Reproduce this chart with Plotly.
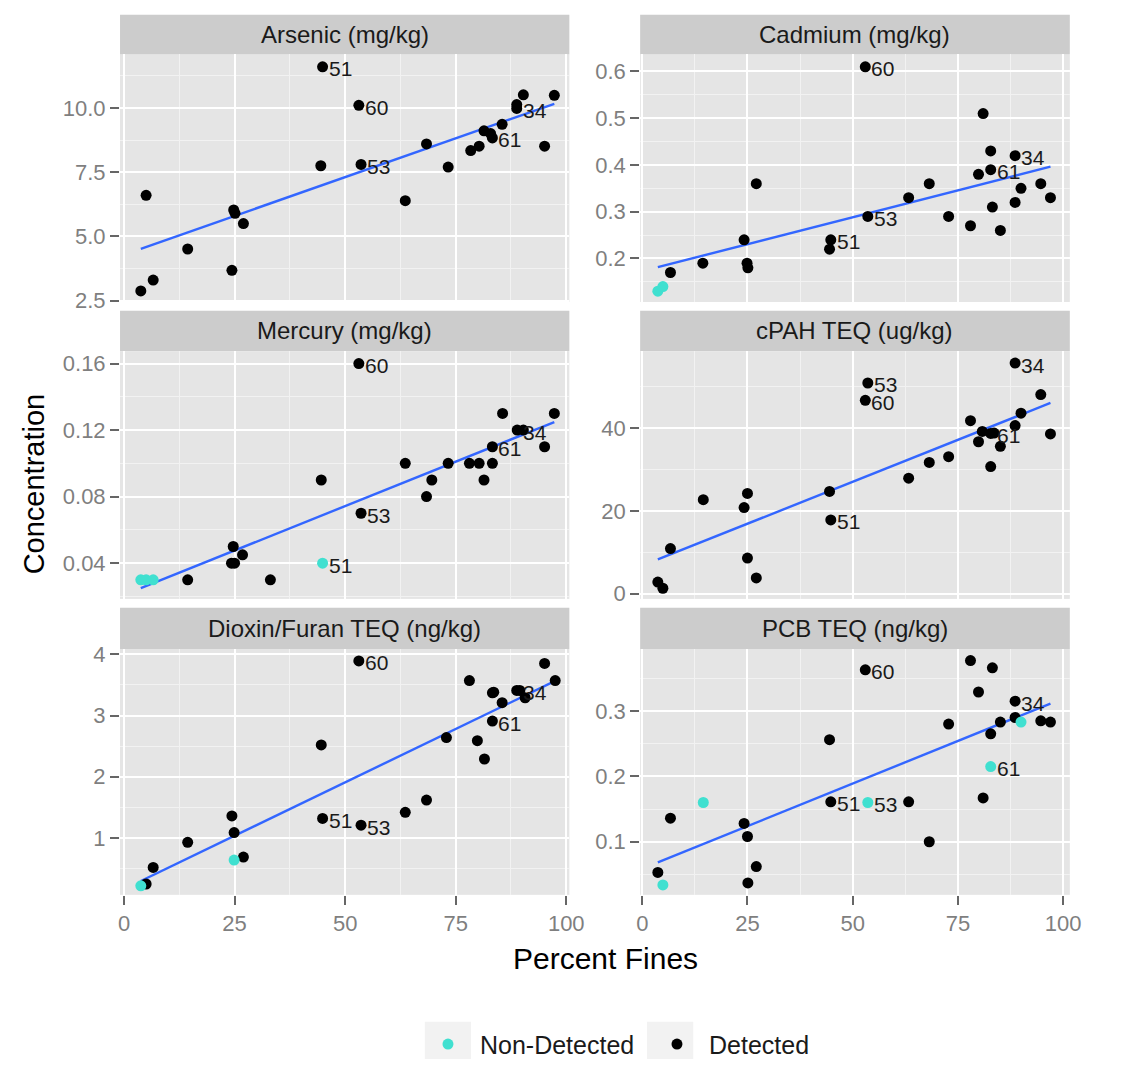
import numpy as np
import plotly.graph_objects as go

# ---------------- data ----------------
percent_ticks = [0, 25, 50, 75, 100]

panel_titles = ["Arsenic (mg/kg)", "Cadmium (mg/kg)", "Mercury (mg/kg)",
                "cPAH TEQ (ug/kg)", "Dioxin/Furan TEQ (ng/kg)", "PCB TEQ (ng/kg)"]

arsenic_x = [3.8, 5.0, 6.6, 14.4, 24.4, 24.8, 25.1, 27.0, 44.5, 44.9, 53.1, 53.6, 63.6, 68.4,
             73.3, 78.4, 80.3, 81.4, 82.9, 83.3, 85.5, 88.8, 88.8, 90.3, 95.1, 97.3]
arsenic_y = [2.88, 6.60, 3.30, 4.51, 3.68, 6.03, 5.90, 5.50, 7.75, 11.6, 10.1, 7.80, 6.39, 8.60,
             7.70, 8.34, 8.51, 9.11, 9.00, 8.83, 9.36, 10.13, 9.98, 10.51, 8.51, 10.49]
arsenic_det = [1] * 26
arsenic_lab = ["", "", "", "", "", "", "", "", "", "51", "60", "53", "", "",
               "", "", "", "", "", "61", "", "", "34", "", "", ""]

cadmium_x = [3.7, 4.9, 6.7, 14.4, 24.2, 24.9, 25.1, 27.1, 44.5, 44.8, 53.0, 53.6, 63.3, 68.2,
             72.8, 78.0, 79.9, 81.0, 82.8, 82.8, 83.2, 85.1, 88.6, 88.6, 90.0, 94.7, 97.0]
cadmium_y = [0.13, 0.14, 0.17, 0.19, 0.24, 0.19, 0.18, 0.36, 0.22, 0.24, 0.61, 0.29, 0.33, 0.36,
             0.29, 0.27, 0.38, 0.51, 0.43, 0.39, 0.31, 0.26, 0.42, 0.32, 0.35, 0.36, 0.33]
cadmium_det = [0, 0] + [1] * 25
cadmium_lab = ["", "", "", "", "", "", "", "", "", "51", "60", "53", "", "",
               "", "", "", "", "", "61", "", "", "34", "", "", "", ""]

mercury_x = [3.8, 5.0, 6.6, 14.4, 24.3, 24.7, 25.0, 26.8, 33.1, 44.6, 44.9, 53.1, 53.6, 63.6,
             68.4, 69.6, 73.3, 78.1, 80.3, 81.4, 83.3, 83.3, 85.6, 88.9, 90.3, 95.1, 97.3]
mercury_y = [0.03, 0.03, 0.03, 0.03, 0.04, 0.05, 0.04, 0.045, 0.03, 0.09, 0.04, 0.16, 0.07, 0.10,
             0.08, 0.09, 0.10, 0.10, 0.10, 0.09, 0.10, 0.11, 0.13, 0.12, 0.12, 0.11, 0.13]
mercury_det = [0, 0, 0, 1, 1, 1, 1, 1, 1, 1, 0, 1, 1, 1,
               1, 1, 1, 1, 1, 1, 1, 1, 1, 1, 1, 1, 1]
mercury_lab = ["", "", "", "", "", "", "", "", "", "", "51", "60", "53", "",
               "", "", "", "", "", "", "", "61", "", "34", "", "", ""]

cpah_x = [3.7, 4.9, 6.7, 14.5, 24.2, 25.0, 25.0, 27.1, 44.5, 44.8, 53.0, 53.6, 63.3, 68.2,
          72.8, 78.0, 79.9, 80.8, 82.8, 82.8, 83.6, 85.1, 88.6, 88.6, 90.0, 94.7, 97.0]
cpah_y = [2.8, 1.3, 10.9, 22.7, 20.8, 24.2, 8.6, 3.8, 24.7, 17.8, 46.7, 50.9, 27.9, 31.7,
          33.1, 41.8, 36.7, 39.2, 38.7, 30.7, 38.8, 35.6, 55.7, 40.6, 43.6, 48.1, 38.6]
cpah_det = [1] * 27
cpah_lab = ["", "", "", "", "", "", "", "", "", "51", "60", "53", "", "",
            "", "", "", "", "61", "", "", "", "34", "", "", "", ""]

dioxin_x = [3.8, 5.0, 6.6, 14.4, 24.4, 24.9, 24.9, 27.0, 44.6, 44.9, 53.1, 53.6, 63.6, 68.4,
            72.9, 78.1, 79.9, 81.5, 83.3, 83.6, 83.3, 85.5, 88.8, 89.5, 90.7, 95.1, 97.5]
dioxin_y = [0.22, 0.25, 0.52, 0.93, 1.36, 1.09, 0.64, 0.69, 2.52, 1.32, 3.89, 1.21, 1.42, 1.62,
            2.64, 3.57, 2.59, 2.29, 3.37, 3.38, 2.91, 3.21, 3.41, 3.41, 3.29, 3.85, 3.57]
dioxin_det = [0, 1, 1, 1, 1, 1, 0, 1, 1, 1, 1, 1, 1, 1,
              1, 1, 1, 1, 1, 1, 1, 1, 1, 1, 1, 1, 1]
dioxin_lab = ["", "", "", "", "", "", "", "", "", "51", "60", "53", "", "",
              "", "", "", "", "", "", "61", "", "34", "", "", "", ""]

pcb_x = [3.7, 4.9, 6.7, 14.5, 24.2, 25.0, 25.1, 27.1, 44.5, 44.8, 53.0, 53.6, 63.3, 68.2,
         72.8, 78.0, 79.9, 81.0, 82.8, 82.8, 83.2, 85.1, 88.6, 88.6, 90.0, 94.7, 97.0]
pcb_y = [0.053, 0.034, 0.136, 0.160, 0.128, 0.108, 0.037, 0.062, 0.256, 0.161, 0.363, 0.160,
         0.161, 0.100, 0.280, 0.377, 0.329, 0.167, 0.265, 0.215, 0.366, 0.283, 0.315, 0.290,
         0.283, 0.285, 0.283]
pcb_det = [1, 0, 1, 0, 1, 1, 1, 1, 1, 1, 1, 0, 1, 1,
           1, 1, 1, 1, 1, 0, 1, 1, 1, 1, 0, 1, 1]
pcb_lab = ["", "", "", "", "", "", "", "", "", "51", "60", "53", "", "",
           "", "", "", "", "", "61", "", "", "34", "", "", "", ""]

y_ticks = [[2.5, 5.0, 7.5, 10.0], [0.2, 0.3, 0.4, 0.5, 0.6], [0.04, 0.08, 0.12, 0.16],
           [0, 20, 40], [1, 2, 3, 4], [0.1, 0.2, 0.3]]
y_ticktext = [["2.5", "5.0", "7.5", "10.0"], ["0.2", "0.3", "0.4", "0.5", "0.6"],
              ["0.04", "0.08", "0.12", "0.16"], ["0", "20", "40"], ["1", "2", "3", "4"],
              ["0.1", "0.2", "0.3"]]

# ---------------- layout geometry (pixels) ----------------
W, H = 1133, 1072
col_px = [(118, 575), (647, 1084)]
row_px = [(48, 300), (350, 602), (653, 903)]
strip_px = [(8, 48), (309, 350), (611, 653)]
x_ranges = [[-0.9, 100.7], [-0.5, 101.6]]
y_ranges = [[2.45, 12.09], [0.107, 0.637], [0.0185, 0.1675],
            [-1.27, 58.6], [0.073, 4.085], [0.0188, 0.3947]]

panels = [
    (arsenic_x, arsenic_y, arsenic_det, arsenic_lab),
    (cadmium_x, cadmium_y, cadmium_det, cadmium_lab),
    (mercury_x, mercury_y, mercury_det, mercury_lab),
    (cpah_x, cpah_y, cpah_det, cpah_lab),
    (dioxin_x, dioxin_y, dioxin_det, dioxin_lab),
    (pcb_x, pcb_y, pcb_det, pcb_lab),
]

FONT = "Liberation Sans, Arial, sans-serif"
DET_COLOR = "#000000"
ND_COLOR = "#40E0D0"
LINE_COLOR = "#3366FF"
PANEL_BG = "#E5E5E5"
STRIP_BG = "#CCCCCC"
MINOR_GRID = "#F2F2F2"


def px_x(p):
    return p / W


def px_y(p):
    return 1 - p / H


def minors(vals):
    step = vals[1] - vals[0]
    out = [vals[0] - step / 2]
    for a, b in zip(vals[:-1], vals[1:]):
        out.append((a + b) / 2)
    out.append(vals[-1] + step / 2)
    return out


fig = go.Figure()
layout = dict(
    width=W, height=H,
    margin=dict(l=0, r=0, t=0, b=0),
    paper_bgcolor="white",
    plot_bgcolor=PANEL_BG,
    font=dict(family=FONT, color="#1A1A1A"),
    showlegend=True,
    shapes=[], annotations=[],
)

legend_shown = {0: False, 1: False}

for i, (xs, ys, det, lab) in enumerate(panels):
    r, c = divmod(i, 2)
    n = i + 1
    xa = "x" if n == 1 else f"x{n}"
    ya = "y" if n == 1 else f"y{n}"
    xs = np.array(xs, dtype=float)
    ys = np.array(ys, dtype=float)
    det = np.array(det)

    # regression line (lm) over the panel's data
    slope, intercept = np.polyfit(xs, ys, 1)
    lx = np.array([xs.min(), xs.max()])
    fig.add_trace(go.Scatter(x=lx, y=slope * lx + intercept, mode="lines",
                             line=dict(color=LINE_COLOR, width=2.4),
                             xaxis=xa, yaxis=ya, showlegend=False, hoverinfo="skip"))

    for flag, name, color, rank in [(1, "Detected", DET_COLOR, 2), (0, "Non-Detected", ND_COLOR, 1)]:
        m = det == flag
        if not m.any():
            continue
        show = not legend_shown[flag]
        legend_shown[flag] = True
        fig.add_trace(go.Scatter(x=xs[m], y=ys[m], mode="markers", name=name,
                                 marker=dict(color=color, size=11, line=dict(width=0)),
                                 xaxis=xa, yaxis=ya, legendgroup=name, showlegend=show,
                                 legendrank=rank))

    for xv, yv, t in zip(xs, ys, lab):
        if t:
            layout["annotations"].append(dict(
                x=xv, y=yv, xref=xa, yref=ya, text=t, showarrow=False,
                xanchor="left", yanchor="middle", xshift=4, yshift=-2,
                font=dict(size=21, color="#1A1A1A", family=FONT)))

    x0, x1 = col_px[c]
    y0, y1 = row_px[r]
    bottom = (r == 2)
    layout[f"xaxis{'' if n == 1 else n}"] = dict(
        domain=[px_x(x0), px_x(x1)], range=x_ranges[c], anchor=ya,
        tickvals=percent_ticks, ticktext=[str(v) for v in percent_ticks],
        showticklabels=bottom, ticks="outside" if bottom else "", ticklen=9, tickwidth=1.5,
        tickcolor="#666666", tickfont=dict(size=22, color="#7F7F7F", family=FONT),
        showgrid=True, gridcolor="white", gridwidth=1.6, zeroline=False, showline=False,
        minor=dict(tickvals=minors(percent_ticks), showgrid=True, gridcolor=MINOR_GRID,
                   gridwidth=0.8, ticks=""),
    )
    layout[f"yaxis{'' if n == 1 else n}"] = dict(
        domain=[px_y(y1), px_y(y0)], range=y_ranges[i], anchor=xa,
        tickvals=y_ticks[i], ticktext=y_ticktext[i],
        ticks="outside", ticklen=9, tickwidth=1.5, tickcolor="#666666",
        tickfont=dict(size=22, color="#7F7F7F", family=FONT),
        showgrid=True, gridcolor="white", gridwidth=1.6, zeroline=False, showline=False,
        minor=dict(tickvals=minors(y_ticks[i]), showgrid=True, gridcolor=MINOR_GRID,
                   gridwidth=0.8, ticks=""),
    )

    s0, s1 = strip_px[r]
    layout["shapes"].append(dict(type="rect", xref="paper", yref="paper",
                                 x0=px_x(x0), x1=px_x(x1), y0=px_y(s1), y1=px_y(s0),
                                 fillcolor=STRIP_BG, line=dict(width=0), layer="below"))
    layout["annotations"].append(dict(
        x=px_x((x0 + x1) / 2), y=px_y((s0 + s1) / 2), xref="paper", yref="paper",
        text=panel_titles[i], showarrow=False, xanchor="center", yanchor="middle",
        font=dict(size=24, color="#1A1A1A", family=FONT)))

layout["annotations"].append(dict(
    x=px_x(30), y=px_y(485), xref="paper", yref="paper", text="Concentration",
    textangle=-90, showarrow=False, xanchor="center", yanchor="middle",
    font=dict(size=29, color="#000000", family=FONT)))
layout["annotations"].append(dict(
    x=px_x(612), y=px_y(968), xref="paper", yref="paper", text="Percent Fines",
    showarrow=False, xanchor="center", yanchor="middle",
    font=dict(size=30, color="#000000", family=FONT)))

for kx in [(428, 475), (654, 701)]:
    layout["shapes"].append(dict(type="rect", xref="paper", yref="paper",
                                 x0=px_x(kx[0]), x1=px_x(kx[1]), y0=px_y(1070), y1=px_y(1032),
                                 fillcolor="#F2F2F2", line=dict(width=0), layer="below"))

layout["legend"] = dict(orientation="h", x=px_x(419), xanchor="left", y=px_y(1055),
                        yanchor="middle", font=dict(size=25, color="#1A1A1A", family=FONT),
                        bgcolor="rgba(0,0,0,0)", entrywidth=160, itemwidth=54,
                        itemsizing="trace", traceorder="normal")

fig.update_layout(**layout)
fig.write_html("out.html", config={"displayModeBar": False},
               post_script="document.body.style.margin='0';document.body.style.overflow='hidden';")
